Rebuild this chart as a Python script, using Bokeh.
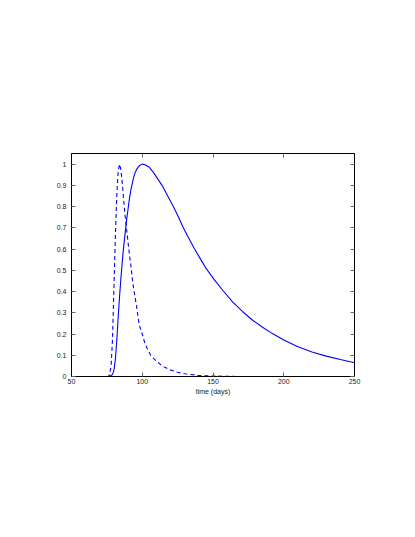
from bokeh.plotting import figure
from bokeh.models import Range1d, LinearAxis, FixedTicker, CustomLabelingPolicy
from bokeh.embed import file_html
from bokeh.resources import INLINE

# Solid curve (time in days, normalized value)
solid_t = [50, 60, 70, 76, 78, 79, 80, 81, 82, 83, 84, 85, 86, 87, 88, 89, 90,
           91, 92, 93, 94, 95, 96, 98, 100, 102, 105, 108, 110, 114, 118, 122,
           126, 129, 133, 137, 141, 145, 151, 157, 164, 171, 178, 185, 192, 200,
           210, 220, 230, 240, 250]
solid_y = [0, 0, 0, 0, 0.005, 0.01, 0.03, 0.08, 0.17, 0.28, 0.38, 0.47, 0.55,
           0.62, 0.68, 0.74, 0.79, 0.84, 0.88, 0.91, 0.94, 0.96, 0.975, 0.993,
           1.0, 0.997, 0.985, 0.96, 0.94, 0.90, 0.85, 0.80, 0.745, 0.70, 0.65,
           0.60, 0.555, 0.51, 0.455, 0.405, 0.35, 0.305, 0.265, 0.232, 0.202,
           0.172, 0.14, 0.115, 0.096, 0.08, 0.065]

# Dashed curve
dashed_t = [50, 70, 76, 77, 78, 79, 80, 81, 82, 83, 84, 85, 86, 87, 88, 89, 90,
            91, 92, 93, 94, 95, 96, 97, 98, 100, 102, 104, 106, 108, 110, 113,
            116, 120, 125, 130, 140, 150, 170, 250]
dashed_y = [0, 0, 0, 0.01, 0.05, 0.18, 0.42, 0.66, 0.85, 0.97, 1.0, 0.97, 0.9,
            0.82, 0.75, 0.69, 0.63, 0.57, 0.52, 0.46, 0.41, 0.37, 0.33, 0.28,
            0.24, 0.20, 0.153, 0.125, 0.10, 0.085, 0.072, 0.056, 0.043, 0.03,
            0.02, 0.013, 0.005, 0.002, 0.0, 0.0]

x_ticks = [50, 100, 150, 200, 250]
y_ticks = [0, 0.1, 0.2, 0.3, 0.4, 0.5, 0.6, 0.7, 0.8, 0.9, 1]
y_tick_labels = ["0", "0.1", "0.2", "0.3", "0.4", "0.5", "0.6", "0.7", "0.8", "0.9", "1"]
x_label = "time (days)"

FONT = "Liberation Sans"

p = figure(width=399, height=521, output_backend="svg", toolbar_location=None,
           x_range=Range1d(50, 250), y_range=Range1d(0, 1.05),
           min_border_left=71, min_border_right=45, min_border_top=153,
           min_border_bottom=145)
p.grid.visible = False
p.outline_line_color = "#000000"
p.outline_line_width = 1
p.background_fill_color = "white"
p.border_fill_color = "white"

p.line(solid_t, solid_y, line_color="#0000ff", line_width=1.1)
p.line(dashed_t, dashed_y, line_color="#0000ff", line_width=1.1, line_dash="4 3")

def style(ax, ticks, show_labels):
    ax.ticker = FixedTicker(ticks=ticks)
    ax.major_tick_in = 4
    ax.major_tick_out = 0
    ax.minor_tick_in = 0
    ax.minor_tick_out = 0
    ax.major_tick_line_color = "#666666"
    ax.axis_line_color = "#000000"
    ax.major_label_text_font = FONT
    ax.major_label_text_color = "#222222"
    ax.major_label_text_font_size = "7px"
    if not show_labels:
        ax.major_label_policy = CustomLabelingPolicy(code="return new Set()")
        ax.major_label_standoff = 0

xa = p.xaxis[0]
style(xa, x_ticks, True)
xa.major_label_standoff = 2
xa.axis_label = x_label
xa.axis_label_text_font = FONT
xa.axis_label_text_font_size = "7px"
xa.axis_label_text_font_style = "normal"
xa.axis_label_text_color = "#222222"
xa.axis_label_standoff = 1

ya = p.yaxis[0]
style(ya, y_ticks, True)
ya.major_label_standoff = 5
ya.major_label_overrides = {t: s for t, s in zip(y_ticks, y_tick_labels)}

top = LinearAxis()
style(top, x_ticks, False)
p.add_layout(top, "above")
right = LinearAxis()
style(right, y_ticks, False)
p.add_layout(right, "right")

open("out.html", "w").write(file_html(p, INLINE))
